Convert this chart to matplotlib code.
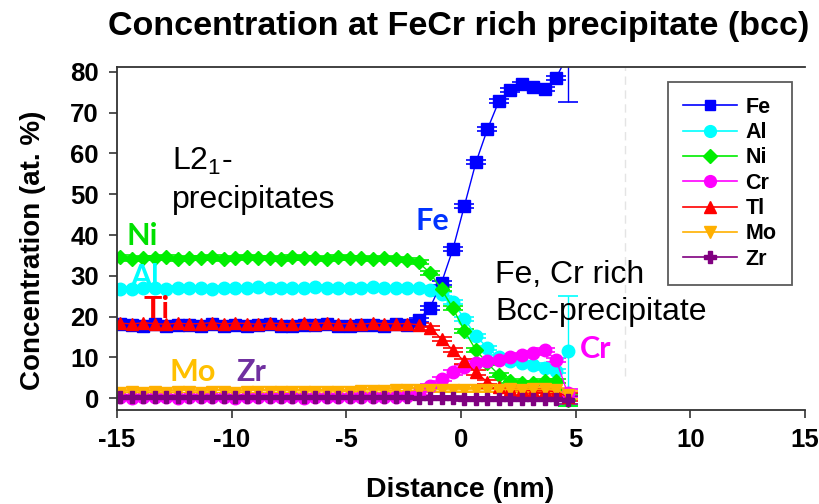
import numpy as np
import matplotlib
matplotlib.use('Agg')
import matplotlib.pyplot as plt
from matplotlib.lines import Line2D

ARIAL = ['Liberation Sans', 'DejaVu Sans']
plt.rcParams['font.family'] = ARIAL
plt.rcParams['font.weight'] = 'bold'
plt.rcParams['axes.unicode_minus'] = False
plt.rcParams['mathtext.fontset'] = 'custom'
plt.rcParams['mathtext.rm'] = 'Liberation Sans'

# ---------------- data ----------------
distance = [-14.85, -14.35, -13.85, -13.35, -12.85, -12.35, -11.85, -11.35, -10.85, -10.35,
            -9.85, -9.35, -8.85, -8.35, -7.85, -7.35, -6.85, -6.35, -5.85, -5.35,
            -4.85, -4.35, -3.85, -3.35, -2.85, -2.35, -1.85, -1.35, -0.85, -0.35,
            0.15, 0.65, 1.15, 1.65, 2.15, 2.65, 3.15, 3.65, 4.15, 4.65]

fe = [18.2, 18.0, 17.8, 18.1, 17.7, 18.0, 17.9, 17.6, 18.1, 17.8,
      18.0, 17.7, 17.9, 18.2, 17.8, 17.6, 18.0, 17.9, 18.1, 17.8,
      17.7, 18.0, 17.9, 17.8, 18.1, 18.0, 19.2, 22.2, 28.3, 36.6,
      47.2, 57.8, 65.9, 72.8, 75.5, 77.0, 76.2, 75.7, 78.6, 84.0]
al = [26.8, 26.7, 27.0, 26.9, 26.8, 27.1, 26.9, 27.0, 26.8, 27.0,
      27.1, 26.9, 27.2, 27.0, 26.9, 27.1, 27.0, 27.3, 27.0, 26.9,
      27.1, 27.0, 27.2, 27.1, 27.0, 27.1, 27.0, 26.6, 25.5, 23.5,
      19.5, 15.2, 12.4, 10.0, 9.0, 8.6, 8.2, 7.4, 6.6, 11.6]
ni = [34.5, 34.2, 34.4, 34.3, 34.6, 34.2, 34.4, 34.3, 34.5, 34.2,
      34.4, 34.6, 34.3, 34.4, 34.2, 34.5, 34.3, 34.4, 34.2, 34.5,
      34.3, 34.4, 34.2, 34.3, 34.1, 33.8, 33.3, 30.7, 26.7, 22.0,
      16.5, 11.8, 8.6, 5.7, 4.1, 3.7, 3.8, 4.1, 4.1, -0.4]
cr = [0.2, 0.1, 0.2, 0.3, 0.2, 0.1, 0.2, 0.2, 0.3, 0.2,
      0.1, 0.2, 0.2, 0.3, 0.2, 0.2, 0.1, 0.2, 0.3, 0.2,
      0.2, 0.3, 0.2, 0.3, 0.4, 0.6, 1.3, 3.0, 4.8, 6.3,
      7.6, 8.6, 9.0, 9.4, 10.0, 10.6, 11.0, 11.8, 9.4, 1.2]
ti = [18.4, 18.2, 18.5, 18.3, 18.1, 18.4, 18.2, 18.3, 18.5, 18.2,
      18.4, 18.3, 18.1, 18.4, 18.3, 18.2, 18.5, 18.3, 18.4, 18.2,
      18.3, 18.1, 18.4, 18.3, 18.2, 18.3, 18.0, 17.3, 14.5, 11.8,
      9.0, 6.3, 4.0, 2.8, 2.2, 2.0, 1.8, 1.8, 1.6, 0.3]
mo = [1.3, 1.4, 1.3, 1.4, 1.3, 1.4, 1.4, 1.3, 1.4, 1.4,
      1.3, 1.4, 1.4, 1.5, 1.4, 1.5, 1.5, 1.6, 1.5, 1.6,
      1.6, 1.7, 1.8, 1.8, 1.9, 1.9, 2.0, 2.0, 2.1, 2.0,
      2.1, 2.0, 2.1, 2.1, 2.2, 2.1, 2.2, 2.2, 2.1, 0.8]
zr = [0.3, 0.2, 0.3, 0.3, 0.2, 0.3, 0.3, 0.2, 0.3, 0.3,
      0.2, 0.3, 0.3, 0.2, 0.3, 0.3, 0.2, 0.3, 0.3, 0.2,
      0.3, 0.3, 0.2, 0.3, 0.2, 0.2, 0.1, 0.1, 0.0, 0.0,
      -0.1, -0.1, -0.2, -0.2, -0.2, -0.3, -0.3, -0.3, -0.3, -0.5]

typical_err = 0.5
last_err = {'Fe': 11.5, 'Al': 13.5, 'Ni': 1.5, 'Cr': 1.0, 'Tl': 1.0, 'Mo': 1.0, 'Zr': 1.0}

elements = ['Fe', 'Al', 'Ni', 'Cr', 'Tl', 'Mo', 'Zr']
values = [fe, al, ni, cr, ti, mo, zr]
markers = ['s', 'o', 'D', 'o', '^', 'v', 'P']
colors = ['#0000ff', '#00ffff', '#00ee00', '#ff00ff', '#ff0000', '#ffb000', '#800080']
msizes = [8, 9, 7.5, 9, 9, 9, 9]

x_ticks = [-15, -10, -5, 0, 5, 10, 15]
y_ticks = [0, 10, 20, 30, 40, 50, 60, 70, 80]

# ---------------- figure ----------------
fig = plt.figure(figsize=(8.2, 5.04), dpi=100)
ax = fig.add_axes([117 / 820, 1 - 410 / 504, 688 / 820, 343 / 504])
ax.set_xlim(-15, 15)
ax.set_ylim(-2.9, 81.2)

ax.axvline(7.15, ymin=0.1, ymax=1.0, color='#e4e4e4', lw=1, ls=(0, (6, 4)), zorder=0)

handles = []
for name, vals, mk, col, ms in zip(elements, values, markers, colors, msizes):
    yerr = [typical_err] * (len(vals) - 1) + [last_err[name]]
    ax.errorbar(distance, vals, yerr=yerr, fmt='-', marker=mk, ms=ms, color=col,
                mec=col, mfc=col, lw=1.0, elinewidth=1.0, capsize=7.5, capthick=1.2)
    handles.append(Line2D([], [], color=col, marker=mk, ms=ms - 0.5, lw=1.2, mec=col))

ax.set_xticks(x_ticks)
ax.set_yticks(y_ticks)
ax.tick_params(axis='both', direction='out', length=6, width=1.2, colors='#333333',
               labelcolor='black', labelsize=18.5, pad=7)
for lab in ax.get_xticklabels() + ax.get_yticklabels():
    lab.set_fontweight('bold')
for s in ['left', 'bottom', 'top']:
    ax.spines[s].set_color('#333333')
    ax.spines[s].set_linewidth(1.3)
ax.spines['right'].set_visible(False)

leg = ax.legend(handles, elements, loc='upper left', bbox_to_anchor=(0.801, 0.957),
                prop={'family': ARIAL, 'weight': 'bold', 'size': 15.5},
                frameon=True, fancybox=False, edgecolor='#333333', handlelength=2.5,
                handletextpad=0.4, labelspacing=0.2, borderpad=0.7, borderaxespad=0)
leg.get_frame().set_linewidth(1.3)

# ---------------- annotations ----------------
calibri = ['Lato', 'DejaVu Sans']
ax.text(-12.6, 56.0, r'L2$_\mathregular{1}$-', fontsize=23, family=ARIAL, weight='normal', va='baseline')
ax.text(-12.6, 46.6, 'precipitates', fontsize=23, family=ARIAL, weight='normal', va='baseline')
ax.text(1.48, 28.2, 'Fe, Cr rich', fontsize=23, family=ARIAL, weight='normal', va='baseline')
ax.text(1.48, 19.2, 'Bcc-precipitate', fontsize=23, family=ARIAL, weight='normal', va='baseline')

labels = [('Fe', -2.0, 41.2, '#0033ff'), ('Ni', -14.58, 37.6, '#00e000'),
          ('Al', -14.43, 27.4, '#00ffff'), ('Ti', -13.86, 19.6, '#ff0000'),
          ('Mo', -12.69, 4.1, '#ffc000'), ('Zr', -9.78, 4.1, '#7030a0'),
          ('Cr', 5.19, 9.8, '#ff00ff')]
for t, x, y, c in labels:
    ax.text(x, y, t, fontsize=22, family=calibri, weight='bold', color=c, va='baseline')

fig.text(459 / 820, 1 - 27 / 504, 'Concentration at FeCr rich precipitate (bcc)',
         ha='center', va='center', fontsize=24.5, weight='bold', family=ARIAL)
fig.text(460 / 820, 1 - 490 / 504, 'Distance (nm)', ha='center', va='center',
         fontsize=20.5, weight='bold', family=ARIAL)
fig.text(33 / 820, 1 - 250 / 504, 'Concentration (at. %)', ha='center', va='center',
         rotation=90, fontsize=20, weight='bold', family=ARIAL)

fig.savefig('out.png', dpi=100)
